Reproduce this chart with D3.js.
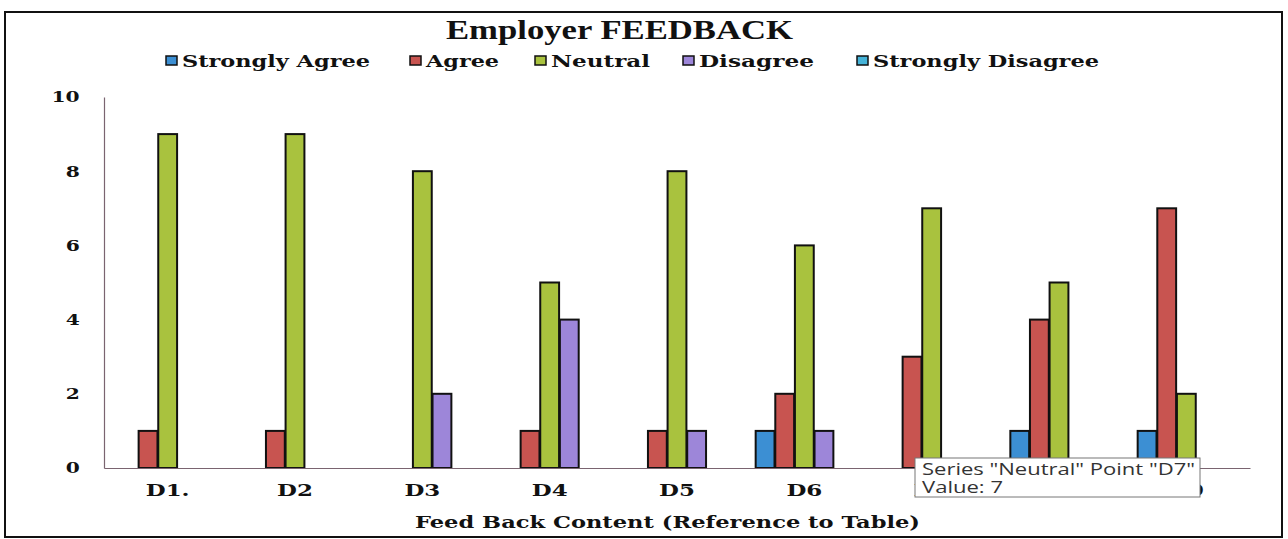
<!DOCTYPE html>
<html>
<head>
<meta charset="utf-8">
<title>Employer FEEDBACK</title>
<script src="https://cdn.jsdelivr.net/npm/d3@7"></script>
<style>
    body { margin: 0; background: #fff; }
    svg text { font-family: "DejaVu Serif", serif; font-weight: bold; fill: #111; }
</style>
</head>
<body>
<div id="viz"></div>
<script>
"use strict";
(function(){
    const categories = ["D1.", "D2", "D3", "D4", "D5", "D6", "D7", "D8", "D9"]
    const seriesNames = ["Strongly Agree", "Agree", "Neutral", "Disagree", "Strongly Disagree"]
    const stronglyAgree    = [0, 0, 0, 0, 0, 1, 0, 1, 1]
    const agree            = [1, 1, 0, 1, 1, 2, 3, 4, 7]
    const neutral          = [9, 9, 8, 5, 8, 6, 7, 5, 2]
    const disagree         = [0, 0, 2, 4, 1, 1, 0, 0, 0]
    const stronglyDisagree = [0, 0, 0, 0, 0, 0, 0, 0, 0]
    const yTicks = [0, 2, 4, 6, 8, 10]

    const measurements = {
        width: 1288,
        height: 539,
        left: 104,
        right: 1250,
        top: 97,
        bottom: 468
    }
    const colors = {
        "Strongly Agree": "#3c8fd3",
        "Agree": "#c85450",
        "Neutral": "#a9c23e",
        "Disagree": "#9d86d9",
        "Strongly Disagree": "#45b3d8"
    }
    // the printed chart is photographed a bit wide, so text is stretched sideways
    const stretch = 1.35

    // one row per category, values keyed by series
    const values = [stronglyAgree, agree, neutral, disagree, stronglyDisagree]
    const data = categories.map((c, i) => {
        let row = {category: c}
        seriesNames.forEach((s, j) => { row[s] = values[j][i] })
        return row
    })

    const svgContainer = d3.select('#viz').append("svg")
        .attr('width', measurements.width)
        .attr('height', measurements.height)

    // outer frame of the chart
    svgContainer.append('rect')
        .attr('x', 5)
        .attr('y', 12)
        .attr('width', 1277)
        .attr('height', 525)
        .attr('fill', 'none')
        .attr('stroke', '#111')
        .attr('stroke-width', 2)

    let scaleX = d3.scaleBand()
        .domain(categories)
        .range([measurements.left, measurements.right])

    let scaleSeries = d3.scaleBand()
        .domain(seriesNames)
        .range([15, scaleX.bandwidth() - 15])
        .paddingInner(0.04)

    let scaleY = d3.scaleLinear()
        .domain([0, 10])
        .range([measurements.bottom, measurements.top])

    /* y axis */
    const yAxis = svgContainer.append('g')
        .attr('transform', 'translate(' + measurements.left + ',0)')
        .call(d3.axisLeft(scaleY).tickValues(yTicks).tickSize(0).tickPadding(18))
    yAxis.select('.domain').attr('stroke', '#7a6470').attr('stroke-width', 1.2)
    yAxis.selectAll('text')
        .style('font-size', '15px')
        .attr('font-family', null)
        .attr('transform', 'scale(' + stretch + ',1)')

    /* bars */
    const groups = svgContainer.selectAll('.group')
        .data(data)
        .enter()
        .append('g')
        .attr('class', 'group')
        .attr('transform', d => 'translate(' + scaleX(d.category) + ',0)')

    groups.selectAll('rect')
        .data(d => seriesNames.map(s => ({series: s, value: d[s]})).filter(e => e.value > 0))
        .enter()
        .append('rect')
            .attr('x', d => scaleSeries(d.series))
            .attr('y', d => scaleY(d.value))
            .attr('width', scaleSeries.bandwidth())
            .attr('height', d => scaleY(0) - scaleY(d.value))
            .attr('fill', d => colors[d.series])
            .attr('stroke', '#111')
            .attr('stroke-width', 2)

    /* x axis */
    const xAxis = svgContainer.append('g')
        .attr('transform', 'translate(0,' + measurements.bottom + ')')
        .call(d3.axisBottom(scaleX).tickSize(0).tickPadding(16).tickSizeOuter(0))
    xAxis.select('.domain').attr('stroke', '#7a6470').attr('stroke-width', 1.2)
    xAxis.selectAll('text')
        .style('font-size', '17px')
        .attr('font-family', null)
        .attr('transform', 'scale(' + stretch + ',1)')

    /* title and axis label */
    svgContainer.append('text')
        .attr('x', 446)
        .attr('y', 39)
        .attr('textLength', 347)
        .attr('lengthAdjust', 'spacingAndGlyphs')
        .style('font-family', '"Liberation Serif", serif')
        .style('font-size', '27px')
        .text('Employer FEEDBACK')

    svgContainer.append('text')
        .attr('x', 415)
        .attr('y', 528)
        .attr('textLength', 505)
        .attr('lengthAdjust', 'spacingAndGlyphs')
        .style('font-size', '17px')
        .text('Feed Back Content (Reference to Table)')

    /* legend */
    const legendX = [166, 410, 535, 683, 857]
    const legendW = [188, 73, 99, 115, 226]
    const legend = svgContainer.selectAll('.legend')
        .data(seriesNames)
        .enter()
        .append('g')
        .attr('class', 'legend')
        .attr('transform', (d, i) => 'translate(' + legendX[i] + ',61)')
    legend.append('rect')
        .attr('x', 0)
        .attr('y', -5)
        .attr('width', 11)
        .attr('height', 9)
        .attr('fill', d => colors[d])
        .attr('stroke', '#111')
        .attr('stroke-width', 1.5)
    legend.append('text')
        .attr('x', 16)
        .attr('y', 6)
        .attr('textLength', (d, i) => legendW[i])
        .attr('lengthAdjust', 'spacingAndGlyphs')
        .style('font-size', '17px')
        .text(d => d)

    /* the hover tooltip caught in the reference */
    const tip = svgContainer.append('g')
        .attr('transform', 'translate(915,458)')
    tip.append('rect')
        .attr('width', 285)
        .attr('height', 39)
        .attr('fill', '#fff')
        .attr('stroke', '#777')
        .attr('stroke-width', 1)
    tip.append('text')
        .attr('x', 7)
        .attr('y', 17)
        .attr('textLength', 273)
        .attr('lengthAdjust', 'spacingAndGlyphs')
        .style('font-family', '"Open Sans", sans-serif')
        .style('font-weight', 'normal')
        .style('font-size', '16px')
        .style('fill', '#333')
        .text('Series "Neutral" Point "D7"')
    tip.append('text')
        .attr('x', 7)
        .attr('y', 35)
        .attr('textLength', 81)
        .attr('lengthAdjust', 'spacingAndGlyphs')
        .style('font-family', '"Open Sans", sans-serif')
        .style('font-weight', 'normal')
        .style('font-size', '16px')
        .style('fill', '#333')
        .text('Value: 7')
})()
</script>
</body>
</html>
